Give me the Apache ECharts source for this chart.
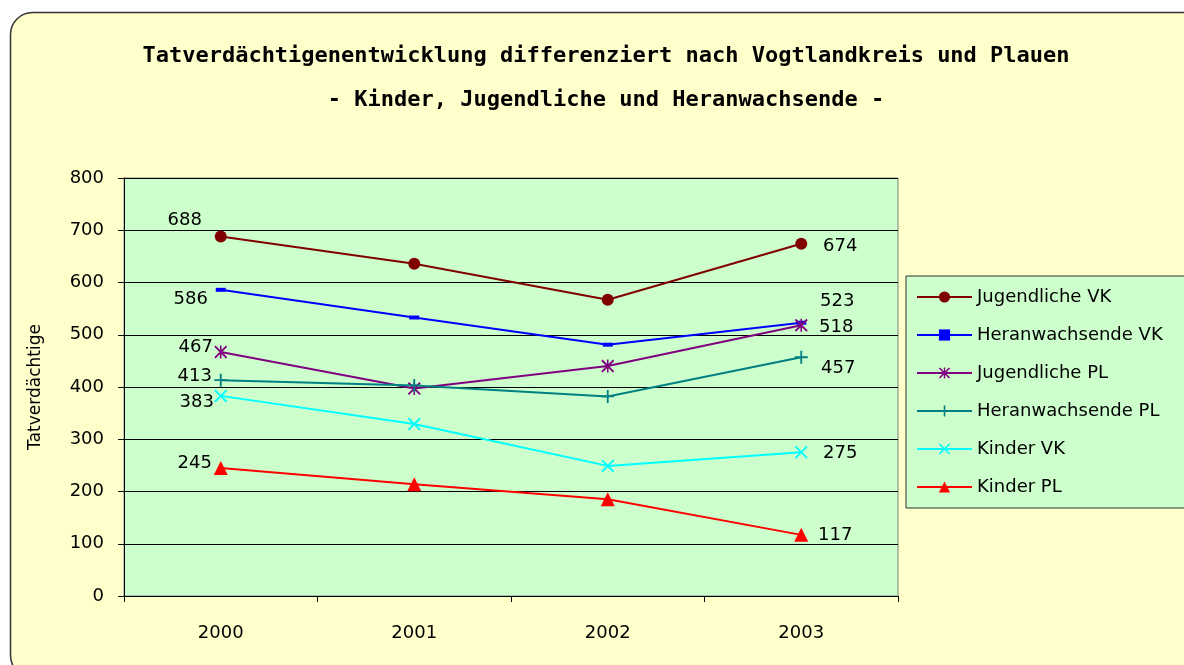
<!DOCTYPE html>
<html>
<head>
<meta charset="utf-8">
<script src="https://cdn.jsdelivr.net/npm/echarts@6/dist/echarts.min.js"></script>
<style>
  html, body { margin: 0; padding: 0; background: #fff; }
  #main { width: 1184px; height: 665px; }
</style>
</head>
<body>
<div id="main"></div>
<script>
const years = ['2000', '2001', '2002', '2003']
const jugendVK = [688, 636, 567, 674]
const heranVK = [586, 533, 481, 523]
const jugendPL = [467, 397, 440, 518]
const heranPL = [413, 403, 382, 457]
const kinderVK = [383, 329, 249, 275]
const kinderPL = [245, 214, 185, 117]

const font = 'DejaVu Sans, Verdana, sans-serif'

// Symbole wie im Excel-Diagramm
const dashPath = 'path://M0,0H10V4H0Z'
const plusPath = 'path://M4.3,0H5.7V10H4.3Z M0,4.3H10V5.7H0Z'
const crossPath = 'path://M0,1L1,0L10,9L9,10Z M9,0L10,1L1,10L0,9Z'
const starPath = 'path://M0,1L1,0L10,9L9,10Z M9,0L10,1L1,10L0,9Z M4.4,0H5.6V10H4.4Z'

// nur erster und letzter Wert bekommen ein Label; offsets [erster, letzter]
function withLabels(values, offs) {
  return values.map((v, i) => {
    if (i === 0 || i === values.length - 1) {
      return {
        value: v,
        label: {
          show: true,
          position: 'inside',
          offset: i === 0 ? offs[0] : offs[1],
          color: '#000',
          fontSize: 18,
          fontFamily: font
        }
      }
    }
    return v
  })
}

function makeSeries(name, values, color, symbol, size, offs) {
  return {
    name: name,
    type: 'line',
    data: withLabels(values, offs),
    symbol: symbol,
    symbolSize: size,
    symbolKeepAspect: true,
    showAllSymbol: true,
    lineStyle: { color: color, width: 2 },
    itemStyle: { color: color },
    emphasis: { disabled: true },
    animation: false
  }
}

let myChart = echarts.init(document.getElementById('main'))

myChart.setOption({
  graphic: [{
    type: 'rect',
    z: -1,
    silent: true,
    shape: { x: 10.5, y: 12.5, width: 1200, height: 665, r: 22 },
    style: { fill: '#FFFFCC', stroke: '#333', lineWidth: 1.5 }
  }],
  title: {
    text: 'Tatverdächtigenentwicklung differenziert nach Vogtlandkreis und Plauen\n- Kinder, Jugendliche und Heranwachsende -',
    left: 606,
    textAlign: 'center',
    top: 34,
    padding: 0,
    textStyle: {
      fontFamily: 'DejaVu Sans Mono, monospace',
      fontWeight: 'bold',
      fontSize: 22,
      lineHeight: 44,
      color: '#000'
    }
  },
  legend: {
    orient: 'vertical',
    left: 906,
    top: 276,
    padding: [12, 24, 12, 10],
    itemGap: 20,
    itemWidth: 55,
    itemHeight: 14,
    backgroundColor: '#CCFFCC',
    borderColor: '#333',
    borderWidth: 1,
    textStyle: { fontSize: 18, fontFamily: font, color: '#000' },
    data: ['Jugendliche VK', 'Heranwachsende VK', 'Jugendliche PL', 'Heranwachsende PL', 'Kinder VK', 'Kinder PL']
  },
  grid: {
    left: 124,
    top: 178,
    right: 286,
    bottom: 69,
    show: true,
    backgroundColor: '#CCFFCC',
    borderColor: '#808080',
    borderWidth: 1
  },
  xAxis: {
    type: 'category',
    data: years,
    boundaryGap: true,
    axisLine: { lineStyle: { color: '#000', width: 1 } },
    axisTick: { show: true, length: 6, alignWithLabel: false, lineStyle: { color: '#000' } },
    axisLabel: { margin: 28, fontSize: 18, fontFamily: font, color: '#000' },
    splitLine: { show: false }
  },
  yAxis: {
    type: 'value',
    min: 0,
    max: 800,
    interval: 100,
    name: 'Tatverdächtige',
    nameLocation: 'middle',
    nameGap: 80,
    nameTextStyle: { fontSize: 17, fontFamily: font, color: '#000' },
    axisLine: { show: true, lineStyle: { color: '#000', width: 1 } },
    axisTick: { show: true, length: 6, lineStyle: { color: '#000' } },
    axisLabel: { margin: 20, fontSize: 18, fontFamily: font, color: '#000' },
    splitLine: { lineStyle: { color: '#000', width: 1 } }
  },
  series: [
    makeSeries('Jugendliche VK', jugendVK, '#800000', 'circle', 12, [[-36, -16], [39, 2]]),
    makeSeries('Heranwachsende VK', heranVK, '#0000FF', dashPath, 10, [[-30, 10], [36, -21]]),
    makeSeries('Jugendliche PL', jugendPL, '#800080', starPath, 13, [[-25, -5], [35, 2]]),
    makeSeries('Heranwachsende PL', heranPL, '#008080', plusPath, 13, [[-26, -4], [37, 11]]),
    makeSeries('Kinder VK', kinderVK, '#00FFFF', crossPath, 13, [[-24, 6], [39, 1]]),
    makeSeries('Kinder PL', kinderPL, '#FF0000', 'triangle', 14, [[-26, -5], [34, 0]])
  ]
});
</script>
</body>
</html>
